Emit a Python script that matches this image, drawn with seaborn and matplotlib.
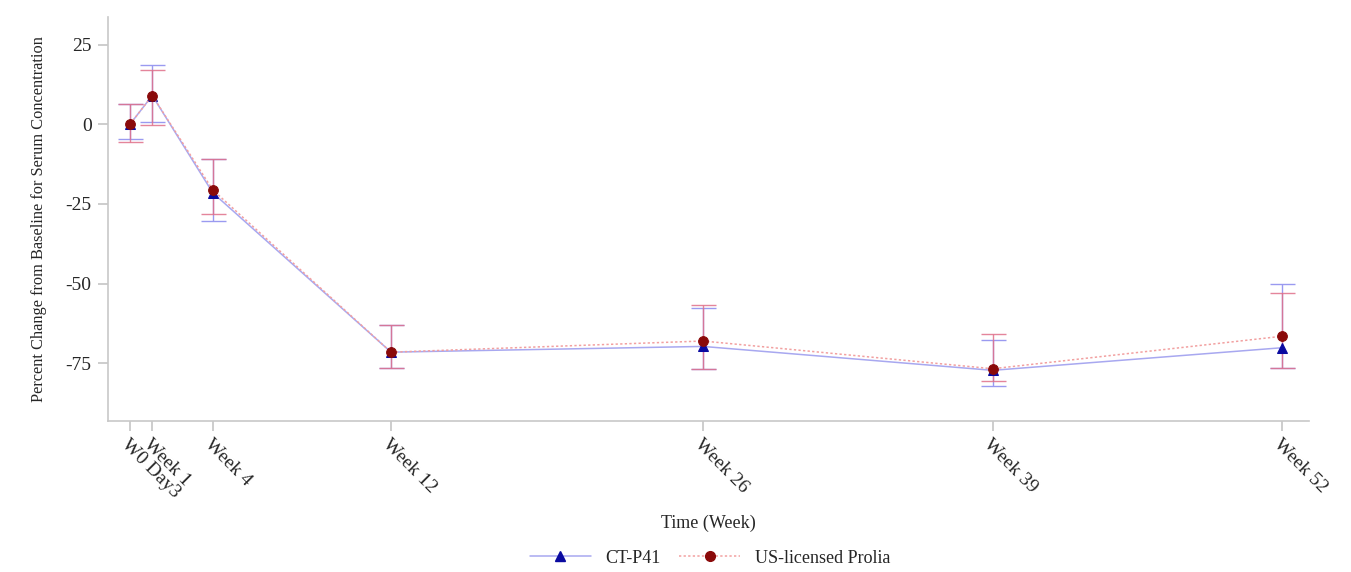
import numpy as np
import pandas as pd
import matplotlib
matplotlib.use("Agg")
import matplotlib.pyplot as plt
import seaborn as sns
from matplotlib.lines import Line2D

# ---- data ----
visit_labels = ["W0 Day3", "Week 1", "Week 4", "Week 12", "Week 26", "Week 39", "Week 52"]
visit_days = [3, 10, 29, 85, 183, 274, 365]

ct_mean = [0.0, 9.0, -21.5, -71.5, -69.7, -77.2, -70.1]
ct_low = [-4.7, 0.7, -30.2, -76.5, -76.7, -82.0, -76.5]
ct_high = [6.3, 18.6, -11.0, -63.1, -57.5, -67.6, -50.2]

us_mean = [0.0, 9.0, -20.6, -71.5, -68.0, -76.7, -66.5]
us_low = [-5.6, -0.3, -28.3, -76.5, -76.7, -80.7, -76.5]
us_high = [6.3, 17.1, -11.0, -63.1, -56.6, -65.9, -53.0]

series_names = ["CT-P41", "US-licensed Prolia"]

sns.set_theme(style="white")
plt.rcParams["font.family"] = ["Liberation Serif", "DejaVu Serif"]

df = pd.DataFrame({
    "day": visit_days * 2,
    "value": ct_mean + us_mean,
    "group": [series_names[0]] * len(visit_days) + [series_names[1]] * len(visit_days),
})

fig = plt.figure(figsize=(13.51, 5.72), dpi=100)
ax = fig.add_axes([0.0802, 0.2645, 0.8888, 0.705])

line_cols = {series_names[0]: "#a8a8f0", series_names[1]: "#f2a0a0"}
mark_cols = {series_names[0]: "#0a0aa0", series_names[1]: "#8a0a0a"}

# error bars
ax.errorbar(visit_days, ct_mean,
            yerr=[np.array(ct_mean) - np.array(ct_low), np.array(ct_high) - np.array(ct_mean)],
            fmt="none", ecolor="#9a9af0", elinewidth=1.0, capsize=9, capthick=1.0, zorder=2)
ax.errorbar(visit_days, us_mean,
            yerr=[np.array(us_mean) - np.array(us_low), np.array(us_high) - np.array(us_mean)],
            fmt="none", ecolor="#e0708a", elinewidth=1.0, capsize=9, capthick=1.0, zorder=2.1, alpha=0.85)

sns.lineplot(data=df[df.group == series_names[0]], x="day", y="value", ax=ax,
             color=line_cols[series_names[0]], lw=1.1, marker="^", markersize=6.5,
             markerfacecolor=mark_cols[series_names[0]], markeredgecolor=mark_cols[series_names[0]],
             legend=False, zorder=3)
sns.lineplot(data=df[df.group == series_names[1]], x="day", y="value", ax=ax,
             color=line_cols[series_names[1]], lw=1.1, linestyle=(0, (1.5, 1.5)), marker="o", markersize=7,
             markerfacecolor=mark_cols[series_names[1]], markeredgecolor=mark_cols[series_names[1]],
             legend=False, zorder=4)

ax.set_xlim(-3.8, 373.4)
ax.set_ylim(-93, 33.5)
ax.set_yticks([25, 0, -25, -50, -75])
ax.set_yticklabels(["25", "0", "-25", "-50", "-75"], fontsize=14)
ax.set_xticks(visit_days)
ax.set_xticklabels(visit_labels, rotation=-45, ha="left", rotation_mode="anchor", fontsize=14)

for s in ["top", "right"]:
    ax.spines[s].set_visible(False)
for s in ["left", "bottom"]:
    ax.spines[s].set_color("#c8c8c8")
    ax.spines[s].set_linewidth(1.2)
ax.tick_params(axis="both", which="both", length=7, width=1.1, color="#c0c0c0",
               direction="out", bottom=True, left=True)
ax.tick_params(axis="y", pad=5)
ax.tick_params(axis="x", pad=4)

ax.set_xlabel("Time (Week)", fontsize=13)
ax.set_ylabel("Percent Change from Baseline for Serum Concentration", fontsize=11.8)
ax.xaxis.set_label_coords(0.5, -0.232)
ax.yaxis.set_label_coords(-0.051, 0.5)

handles = [
    Line2D([], [], color=line_cols[series_names[0]], lw=1.1, marker="^", markersize=6.5,
           markerfacecolor=mark_cols[series_names[0]], markeredgecolor=mark_cols[series_names[0]]),
    Line2D([], [], color=line_cols[series_names[1]], lw=1.1, linestyle=(0, (1.5, 1.5)), marker="o", markersize=7,
           markerfacecolor=mark_cols[series_names[1]], markeredgecolor=mark_cols[series_names[1]]),
]
fig.legend(handles, series_names, loc="center", bbox_to_anchor=(0.5255, 0.024), ncol=2, frameon=False,
           fontsize=13, handlelength=3.4, columnspacing=1.0, handletextpad=0.8)

fig.savefig("out.png", dpi=100, facecolor="white")
